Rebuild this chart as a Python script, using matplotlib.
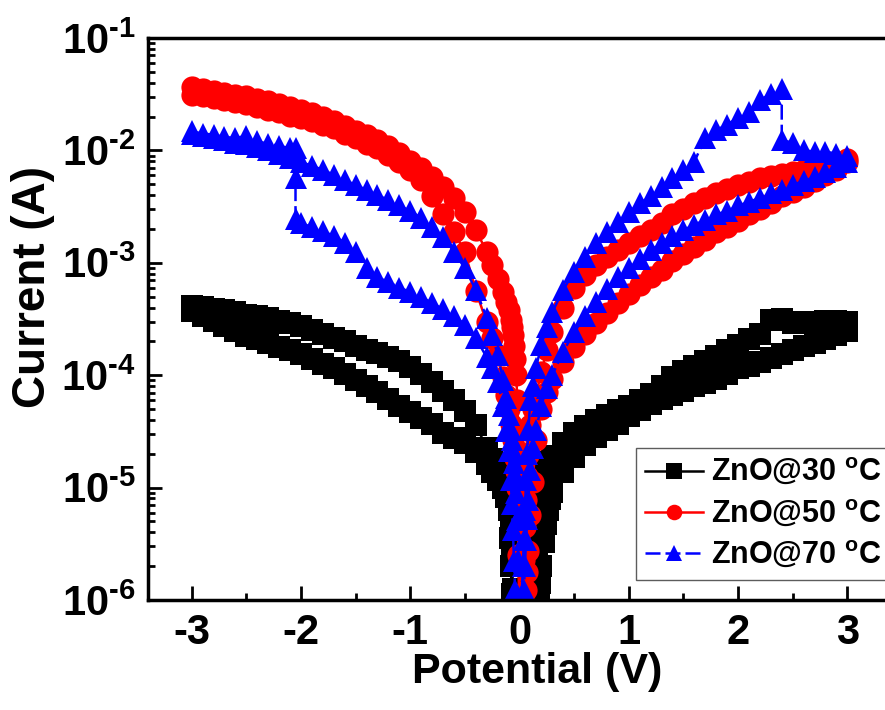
import numpy as np
import matplotlib
matplotlib.use('Agg')
import matplotlib.pyplot as plt
from matplotlib.ticker import MultipleLocator, LogLocator, NullFormatter, FuncFormatter

plt.rcParams['font.family'] = ['Liberation Sans', 'DejaVu Sans']
plt.rcParams['font.weight'] = 'bold'
plt.rcParams['mathtext.fontset'] = 'custom'
plt.rcParams['mathtext.rm'] = 'Liberation Sans:bold'
plt.rcParams['mathtext.bf'] = 'Liberation Sans:bold'
plt.rcParams['mathtext.it'] = 'Liberation Sans:bold'
plt.rcParams['axes.unicode_minus'] = False

# ---------------- data (|V| in volts, log10 of current in A) ----------------
v_tail = [0.3, 0.4, 0.5, 0.6, 0.7, 0.8, 0.9, 1.0, 1.1, 1.2, 1.3, 1.4, 1.5, 1.6,
          1.7, 1.8, 1.9, 2.0, 2.1, 2.2, 2.3, 2.4, 2.5, 2.6, 2.7, 2.8, 2.9, 3.0]
v_head = [0.01, 0.02, 0.03, 0.04, 0.05, 0.06, 0.07, 0.08, 0.1, 0.12, 0.15, 0.2, 0.25]

# ZnO@30 C (black)
black_v_pos_head = [0.12, 0.14, 0.15, 0.16, 0.17, 0.18, 0.19, 0.2, 0.22, 0.24, 0.26, 0.28]
black_v_neg_head = [0.01, 0.02, 0.03, 0.04, 0.05, 0.06, 0.07, 0.08, 0.09, 0.1, 0.12, 0.15, 0.2, 0.25]
black_pos_fwd = [-6.3, -6.0, -5.82, -5.62, -5.4, -5.2, -5.05, -4.97, -4.93, -4.88, -4.81, -4.77,
                 -4.72, -4.60, -4.51, -4.45, -4.40, -4.35, -4.31, -4.27, -4.22, -4.17, -4.10, -4.02,
                 -3.96, -3.92, -3.87, -3.83, -3.78, -3.73, -3.68, -3.63, -3.51, -3.50, -3.54, -3.53,
                 -3.53, -3.52, -3.52, -3.53]
black_pos_rev = [-6.9, -6.6, -6.45, -6.3, -6.15, -6.0, -5.85, -5.7, -5.48, -5.32, -5.2, -5.1,
                 -5.04, -4.86, -4.73, -4.62, -4.55, -4.49, -4.43, -4.36, -4.31, -4.26, -4.21, -4.18,
                 -4.14, -4.10, -4.07, -4.03, -3.99, -3.94, -3.92, -3.88, -3.85, -3.81, -3.78, -3.74,
                 -3.71, -3.68, -3.64, -3.61]
black_neg_fwd = [-7.5, -7.3, -7.1, -6.8, -6.5, -6.2, -5.95, -5.7, -5.45, -5.2, -5.08, -5.0, -4.93, -4.86,
                 -4.79, -4.68, -4.60, -4.56, -4.51, -4.43, -4.38, -4.33, -4.27, -4.21, -4.15, -4.10,
                 -4.04, -3.99, -3.94, -3.90, -3.86, -3.81, -3.78, -3.75, -3.71, -3.68, -3.65, -3.61,
                 -3.56, -3.52, -3.47, -3.43]
black_neg_rev = [-7.2, -7.0, -6.8, -6.5, -6.2, -5.9, -5.6, -5.35, -5.15, -5.0, -4.94, -4.89, -4.83, -4.75,
                 -4.65, -4.44, -4.32, -4.22, -4.14, -4.06, -3.99, -3.93, -3.87, -3.84, -3.80, -3.78,
                 -3.74, -3.70, -3.67, -3.63, -3.60, -3.56, -3.54, -3.52, -3.49, -3.47, -3.46, -3.44,
                 -3.42, -3.41, -3.39, -3.38]

# ZnO@50 C (red)
red_pos_fwd = [-6.8, -6.4, -6.0, -5.64, -5.35, -5.11, -4.9, -4.71, -4.44, -4.3, -4.18, -3.97, -3.78,
               -3.62, -3.40, -3.22, -3.11, -3.02, -2.95, -2.89, -2.82, -2.76, -2.71, -2.65, -2.57,
               -2.52, -2.47, -2.42, -2.38, -2.34, -2.31, -2.28, -2.25, -2.23, -2.21, -2.19, -2.17,
               -2.15, -2.13, -2.10, -2.08]
red_pos_rev = [-7.0, -6.7, -6.4, -6.2, -6.05, -5.91, -5.75, -5.56, -5.24, -4.95, -4.58, -4.30, -4.15,
               -4.03, -3.88, -3.75, -3.63, -3.54, -3.45, -3.36, -3.28, -3.20, -3.13, -3.06, -2.98,
               -2.92, -2.86, -2.80, -2.73, -2.68, -2.63, -2.57, -2.52, -2.47, -2.41, -2.37, -2.33,
               -2.27, -2.22, -2.17, -2.10]
red_neg_fwd = [-5.6, -5.0, -4.85, -4.74, -4.66, -4.58, -4.50, -4.43, -4.30, -4.18, -4.02, -3.82, -3.67,
               -3.53, -3.25, -2.90, -2.73, -2.57, -2.41, -2.26, -2.17, -2.10, -2.04, -1.98, -1.94,
               -1.89, -1.85, -1.80, -1.77, -1.74, -1.71, -1.69, -1.66, -1.64, -1.61, -1.59, -1.57,
               -1.55, -1.53, -1.52, -1.51]
red_neg_rev = [-4.67, -4.22, -4.0, -3.86, -3.74, -3.64, -3.57, -3.51, -3.42, -3.35, -3.26, -3.14, -3.02,
               -2.90, -2.71, -2.55, -2.42, -2.33, -2.24, -2.16, -2.09, -2.02, -1.96, -1.91, -1.86,
               -1.83, -1.78, -1.74, -1.70, -1.67, -1.64, -1.61, -1.59, -1.56, -1.54, -1.52, -1.51,
               -1.49, -1.47, -1.45, -1.44]

# ZnO@70 C (blue)
blue_v_pos_fwd_tail = [0.3, 0.4, 0.5, 0.6, 0.7, 0.8, 0.9, 1.0, 1.1, 1.2, 1.3, 1.4, 1.5, 1.6, 1.7,
                       1.8, 1.9, 2.0, 2.1, 2.2, 2.3, 2.4, 2.4, 2.5, 2.6, 2.7, 2.8, 2.9, 3.0]
blue_v_neg_fwd_tail = [0.3, 0.4, 0.5, 0.6, 0.7, 0.8, 0.9, 1.0, 1.1, 1.2, 1.3, 1.4, 1.5, 1.6, 1.7,
                       1.8, 1.9, 2.0, 2.05, 2.05, 2.05, 2.1, 2.2, 2.3, 2.4, 2.5, 2.6, 2.7, 2.8, 2.9, 3.0]
blue_pos_fwd = [-6.4, -6.0, -5.7, -5.47, -5.2, -4.93, -4.7, -4.49, -4.22, -4.1, -3.94, -3.73, -3.57,
                -3.44, -3.24, -3.08, -2.95, -2.82, -2.73, -2.64, -2.55, -2.47, -2.41, -2.33, -2.25,
                -2.17, -2.10, -1.89, -1.82, -1.77, -1.71, -1.66, -1.55, -1.50, -1.45,
                -1.91, -1.93, -2.00, -2.01, -2.01, -2.03, -2.05]
blue_pos_rev = [-6.7, -6.3, -6.1, -5.91, -5.7, -5.47, -5.28, -5.11, -4.84, -4.65, -4.49, -4.27, -4.11,
                -4.00, -3.79, -3.62, -3.47, -3.35, -3.23, -3.13, -3.05, -2.97, -2.89, -2.82, -2.76,
                -2.71, -2.66, -2.62, -2.57, -2.54, -2.49, -2.46, -2.42, -2.38, -2.35, -2.31, -2.27,
                -2.24, -2.19, -2.15, -2.10]
blue_neg_fwd = [-6.6, -6.3, -6.1, -5.91, -5.65, -5.38, -5.15, -4.93, -4.67, -4.5, -4.27, -4.06, -3.94,
                -3.84, -3.67, -3.55, -3.47, -3.41, -3.36, -3.30, -3.26, -3.22, -3.17, -3.13, -3.05,
                -2.90, -2.82, -2.76, -2.72, -2.68, -2.65, -2.61, -2.25, -1.98,
                -1.98, -1.96, -1.94, -1.92, -1.87, -1.89, -1.88, -1.86, -1.85, -1.83]
blue_neg_rev = [-5.64, -5.29, -5.05, -4.89, -4.78, -4.67, -4.58, -4.49, -4.35, -4.2, -4.04, -3.82, -3.64,
                -3.49, -3.24, -3.05, -2.90, -2.77, -2.68, -2.60, -2.54, -2.49, -2.44, -2.40, -2.35,
                -2.31, -2.26, -2.22, -2.17, -2.14, -2.10, -2.07, -2.03, -2.00, -1.97, -1.94, -1.93,
                -1.91, -1.89, -1.87, -1.85]

labels = [r'ZnO@30 $^{\mathrm{o}}$C', r'ZnO@50 $^{\mathrm{o}}$C', r'ZnO@70 $^{\mathrm{o}}$C']
colors = ['#000000', '#ff0000', '#0000ff']
markers = ['s', 'o', '^']
sizes = [16.5, 16, 16.5]
styles = ['-', '-', '--']


def loop(vpf, ipf, vpr, ipr, vnf, inf, vnr, inr):
    """Full sweep 0 -> +3 -> 0 -> -3 -> 0."""
    v = (list(vpf) + list(vpr)[::-1] + [-x for x in vnf] + [-x for x in vnr][::-1])
    lg = (list(ipf) + list(ipr)[::-1] + list(inf) + list(inr)[::-1])
    return np.array(v), np.power(10.0, np.array(lg))


curves = [
    loop(black_v_pos_head + v_tail, black_pos_fwd, black_v_pos_head + v_tail, black_pos_rev,
         black_v_neg_head + v_tail, black_neg_fwd, black_v_neg_head + v_tail, black_neg_rev),
    loop(v_head + v_tail, red_pos_fwd, v_head + v_tail, red_pos_rev,
         v_head + v_tail, red_neg_fwd, v_head + v_tail, red_neg_rev),
    loop(v_head + blue_v_pos_fwd_tail, blue_pos_fwd, v_head + v_tail, blue_pos_rev,
         v_head + blue_v_neg_fwd_tail, blue_neg_fwd, v_head + v_tail, blue_neg_rev),
]

# ---------------- figure ----------------
fig = plt.figure(figsize=(8.85, 7.10), dpi=100)
ax = fig.add_axes([148 / 885, 110 / 710, 743 / 885, 562 / 710])

handles = []
for (v, i), lab, c, m, ms, ls in zip(curves, labels, colors, markers, sizes, styles):
    line, = ax.plot(v, i, color=c, marker=m, markersize=ms, markeredgewidth=0,
                    linewidth=1.8, linestyle=ls, label=lab)
    if ls == '--':
        line.set_dashes((6, 2))
    handles.append(line)

ax.set_yscale('log')
ax.set_xlim(-3.4, 3.4)
ax.set_ylim(1e-6, 1e-1)

HYPHEN = '\u2010'


def ylab(y, _):
    e = abs(int(round(np.log10(y))))
    return '$\\mathbf{10^{' + HYPHEN + str(e) + '}}$'


ax.xaxis.set_major_locator(MultipleLocator(1))
ax.xaxis.set_minor_locator(MultipleLocator(0.5))
ax.yaxis.set_major_locator(LogLocator(base=10, numticks=10))
ax.yaxis.set_minor_locator(LogLocator(base=10, subs=np.arange(2, 10), numticks=100))
ax.yaxis.set_minor_formatter(NullFormatter())
ax.yaxis.set_major_formatter(FuncFormatter(ylab))
ax.xaxis.set_major_formatter(FuncFormatter(lambda x, _: '%d' % int(round(x))))

ax.tick_params(which='major', direction='in', length=10, width=2, labelsize=30, pad=9,
               top=False, right=False)
ax.tick_params(which='minor', direction='in', length=5, width=2, top=False, right=False)
for s in ax.spines.values():
    s.set_linewidth(2.5)

ax.set_xlabel('Potential (V)', fontsize=31, fontweight='bold')
ax.set_ylabel('Current (A)', fontsize=33, fontweight='bold')
ax.xaxis.set_label_coords(0.524, -0.128)
ax.xaxis.label.set_va('center')
ax.yaxis.set_label_coords(-0.155, 0.557)
ax.yaxis.label.set_va('center')

leg = ax.legend(handles=handles, loc='upper left', bbox_to_anchor=(636 / 885, 1 - 448 / 710),
                bbox_transform=fig.transFigure, frameon=True, fancybox=False,
                edgecolor='#333333', fontsize=22, handlelength=1.9, handletextpad=0.25,
                labelspacing=0.33, borderpad=0.3, borderaxespad=0, markerscale=0.7)
leg.get_frame().set_linewidth(1.0)

fig.savefig('out.png', dpi=100)
